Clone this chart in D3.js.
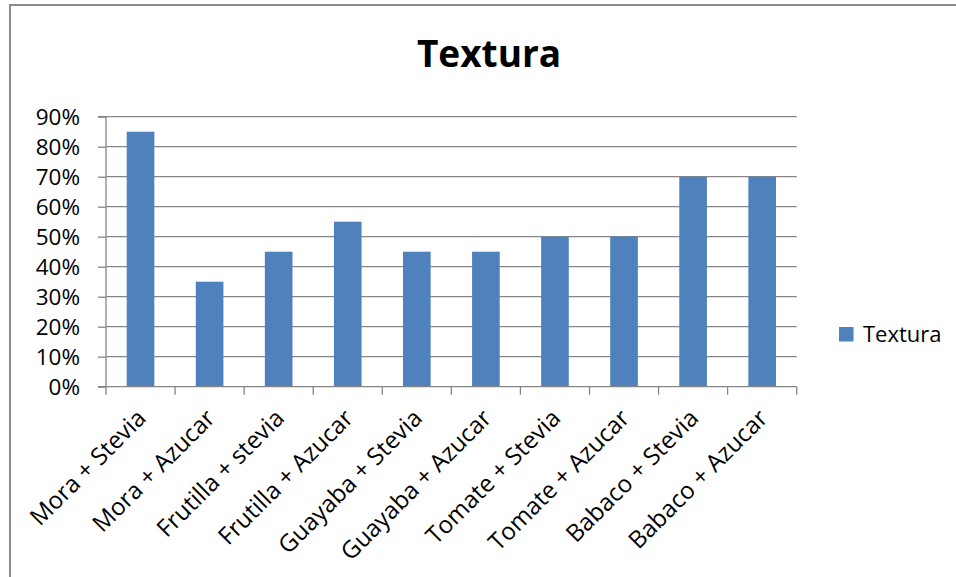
<!DOCTYPE html>
<html>
<head>
<meta charset="utf-8">
<script src="https://cdn.jsdelivr.net/npm/d3@7"></script>
<style>
  html, body { margin: 0; padding: 0; background: #fff; }
  svg { display: block; }
  text { font-family: "Open Sans", "Noto Sans", sans-serif; fill: #000; }
</style>
</head>
<body>
<svg id="chart" width="956" height="577"></svg>
<script>
// Textura por combinación de fruta y endulzante
const categories = [
  "Mora + Stevia", "Mora + Azucar", "Frutilla + stevia", "Frutilla + Azucar",
  "Guayaba + Stevia", "Guayaba + Azucar", "Tomate + Stevia", "Tomate + Azucar",
  "Babaco + Stevia", "Babaco + Azucar"
];
const texturaValues = [0.85, 0.35, 0.45, 0.55, 0.45, 0.45, 0.50, 0.50, 0.70, 0.70];
const yTicks = [0, 0.1, 0.2, 0.3, 0.4, 0.5, 0.6, 0.7, 0.8, 0.9];
const seriesName = "Textura";
const chartTitle = "Textura";

const svg = d3.select("#chart");
const gridColor = "#868686";
const barColor = "#4F81BD";

// outer chart frame
svg.append("rect")
  .attr("x", 10).attr("y", 5)
  .attr("width", 980).attr("height", 620)
  .attr("fill", "none")
  .attr("stroke", "#8c8c8c")
  .attr("stroke-width", 2);

const plot = { left: 106, right: 796.7, top: 116.7, bottom: 386.7 };

const x = d3.scaleBand()
  .domain(categories)
  .range([plot.left, plot.right])
  .paddingInner(0.6)
  .paddingOuter(0.3);

const y = d3.scaleLinear()
  .domain([0, 0.9])
  .range([plot.bottom, plot.top]);

// horizontal gridlines
svg.append("g")
  .selectAll("line")
  .data(yTicks.filter(d => d > 0))
  .join("line")
  .attr("x1", plot.left).attr("x2", plot.right)
  .attr("y1", d => y(d)).attr("y2", d => y(d))
  .attr("stroke", gridColor)
  .attr("stroke-width", 1.3);

// bars
svg.append("g")
  .selectAll("rect")
  .data(categories.map((c, i) => ({ c, v: texturaValues[i] })))
  .join("rect")
  .attr("x", d => x(d.c))
  .attr("width", x.bandwidth())
  .attr("y", d => y(d.v))
  .attr("height", d => y(0) - y(d.v))
  .attr("fill", barColor);

// y axis
const yAxis = d3.axisLeft(y)
  .tickValues(yTicks)
  .tickFormat(d3.format(".0%"))
  .tickSize(8)
  .tickPadding(18);
const gy = svg.append("g")
  .attr("transform", `translate(${plot.left},0)`)
  .call(yAxis);
gy.select(".domain").attr("stroke", gridColor).attr("stroke-width", 1.3)
  .attr("d", `M-8,${plot.top}H0V${plot.bottom}H-8`);
gy.selectAll(".tick line").attr("stroke", gridColor).attr("stroke-width", 1.3);
gy.selectAll(".tick text")
  .style("font-size", "22.5px")
  .attr("dy", "0.36em")
  .attr("fill", "#000");

// x axis with boundary ticks between categories
const boundaries = d3.range(categories.length + 1).map(i => plot.left + i * (plot.right - plot.left) / categories.length);
const gx = svg.append("g");
gx.append("line")
  .attr("x1", plot.left).attr("x2", plot.right)
  .attr("y1", plot.bottom).attr("y2", plot.bottom)
  .attr("stroke", gridColor).attr("stroke-width", 1.3);
gx.selectAll("line.tk")
  .data(boundaries)
  .join("line")
  .attr("class", "tk")
  .attr("x1", d => d).attr("x2", d => d)
  .attr("y1", plot.bottom).attr("y2", plot.bottom + 8)
  .attr("stroke", gridColor).attr("stroke-width", 1.3);

// rotated category labels
gx.selectAll("text")
  .data(categories)
  .join("text")
  .attr("transform", d => `translate(${x(d) + x.bandwidth() / 2 + 1},${plot.bottom + 27}) rotate(-45)`)
  .attr("text-anchor", "end")
  .attr("dy", "0.35em")
  .style("font-size", "24px")
  .text(d => d);

// title
svg.append("text")
  .attr("x", 489).attr("y", 67.3)
  .attr("text-anchor", "middle")
  .style("font-size", "37px")
  .style("font-weight", "bold")
  .text(chartTitle);

// legend
const lg = svg.append("g").attr("transform", "translate(839,327)");
lg.append("rect")
  .attr("width", 14.5).attr("height", 14.5)
  .attr("fill", barColor);
lg.append("text")
  .attr("x", 24).attr("y", 15.3)
  .style("font-size", "22px")
  .text(seriesName);
</script>
</body>
</html>
